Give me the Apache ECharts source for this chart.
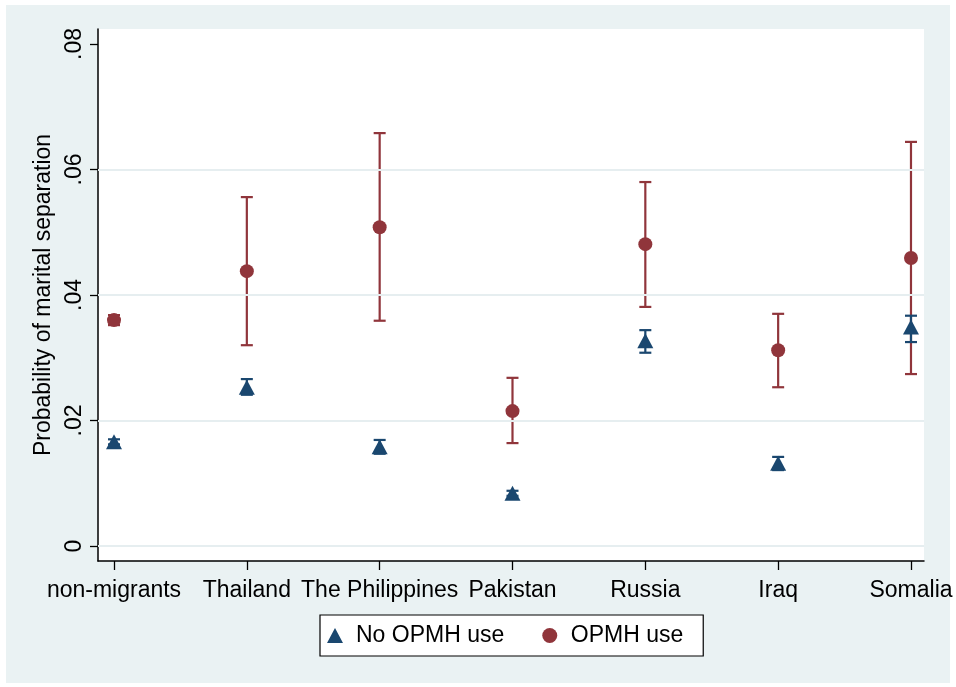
<!DOCTYPE html>
<html>
<head>
<meta charset="utf-8">
<script src="https://cdn.jsdelivr.net/npm/echarts@6/dist/echarts.min.js"></script>
<style>
html,body{margin:0;padding:0;background:#fff;}
#chart{width:956px;height:687px;}
</style>
</head>
<body>
<div id="chart"></div>
<script>
// ---- data ----
const categories = ['non-migrants', 'Thailand', 'The Philippines', 'Pakistan', 'Russia', 'Iraq', 'Somalia'];
const noOpmh     = [0.0166, 0.0253, 0.0158, 0.0084, 0.0327, 0.0132, 0.0349];
const noOpmhLow  = [0.0162, 0.0241, 0.0147, 0.0080, 0.0308, 0.0121, 0.0325];
const noOpmhHigh = [0.0170, 0.0266, 0.0169, 0.0088, 0.0344, 0.0142, 0.0367];
const opmh       = [0.0360, 0.0438, 0.0508, 0.0215, 0.0481, 0.0312, 0.0459];
const opmhLow    = [0.0352, 0.0320, 0.0359, 0.0164, 0.0381, 0.0253, 0.0274];
const opmhHigh   = [0.0368, 0.0556, 0.0658, 0.0268, 0.0580, 0.0370, 0.0644];
const yTicks      = [0, 0.02, 0.04, 0.06, 0.08];
const yTickLabels = ['0', '.02', '.04', '.06', '.08'];
const gridLineValues = [0, 0.02, 0.04, 0.06];
const seriesNames = ['No OPMH use', 'OPMH use'];

// ---- build ----
const NAVY = '#1A476F', MAROON = '#90353B';
const FONT = "'Liberation Sans', Arial, Helvetica, sans-serif";
const xPos = categories.map((c, i) => i + 1);
const pts = (vals) => vals.map((v, i) => [xPos[i], v]);
const ci = (lo, hi) => lo.map((v, i) => [xPos[i], v, hi[i]]);

function ciRender(color) {
  return function (params, api) {
    const x = api.value(0), lo = api.value(1), hi = api.value(2);
    const a = api.coord([x, lo]), b = api.coord([x, hi]);
    const w = 6;
    const style = { stroke: color, lineWidth: 2.2, fill: null };
    return {
      type: 'group',
      children: [
        { type: 'line', shape: { x1: a[0], y1: a[1], x2: b[0], y2: b[1] }, style: style },
        { type: 'line', shape: { x1: a[0] - w, y1: a[1], x2: a[0] + w, y2: a[1] }, style: style },
        { type: 'line', shape: { x1: b[0] - w, y1: b[1], x2: b[0] + w, y2: b[1] }, style: style }
      ]
    };
  };
}

const chart = echarts.init(document.getElementById('chart'), null, { renderer: 'canvas' });
chart.setOption({
  animation: false,
  backgroundColor: '#ffffff',
  textStyle: { fontFamily: FONT },
  graphic: [{
    type: 'rect', z: -10, silent: true,
    shape: { x: 6, y: 5, width: 944, height: 678 },
    style: { fill: '#EAF2F3' }
  }],
  grid: {
    left: 98, top: 29, right: 32, bottom: 126,
    show: true, backgroundColor: '#ffffff', borderWidth: 0
  },
  xAxis: {
    type: 'value', min: 0.8795, max: 7.098,
    axisLine: { show: true, onZero: false, lineStyle: { color: '#000', width: 1.5 } },
    axisTick: { show: true, length: 9, customValues: xPos, lineStyle: { color: '#000', width: 1.3 } },
    axisLabel: {
      customValues: xPos, margin: 18, color: '#000', fontSize: 23, fontFamily: FONT,
      formatter: (v) => categories[Math.round(v) - 1] || ''
    },
    splitLine: { show: false }
  },
  yAxis: {
    type: 'value', min: -0.00239, max: 0.08239,
    name: 'Probability of marital separation',
    nameLocation: 'middle', nameRotate: 90, nameGap: 37,
    nameTextStyle: { color: '#000', fontSize: 23, fontFamily: FONT },
    axisLine: { show: true, onZero: false, lineStyle: { color: '#000', width: 1.5 } },
    axisTick: { show: true, length: 8, customValues: yTicks, lineStyle: { color: '#000', width: 1.3 } },
    axisLabel: {
      customValues: yTicks, rotate: 90, margin: 12, color: '#000', fontSize: 23, fontFamily: FONT,
      formatter: (v) => { const i = yTicks.findIndex(t => Math.abs(t - v) < 1e-9); return i >= 0 ? yTickLabels[i] : ''; }
    },
    splitLine: { show: false }
  },
  legend: {
    data: [
      { name: seriesNames[0], icon: 'triangle' },
      { name: seriesNames[1], icon: 'circle' }
    ],
    left: 320, top: 615,
    orient: 'horizontal',
    itemWidth: 16, itemHeight: 15, itemGap: 38,
    padding: [9, 20, 9, 7],
    backgroundColor: '#ffffff', borderColor: '#000', borderWidth: 1.2, borderRadius: 0,
    textStyle: { color: '#000', fontSize: 23, fontFamily: FONT, padding: [0, 0, 0, 8] }
  },
  series: [
    {
      name: 'grid', type: 'scatter', data: [], z: 1, silent: true,
      markLine: {
        silent: true, symbol: ['none', 'none'], label: { show: false },
        lineStyle: { color: '#E6EEF0', width: 1.8, type: 'solid' },
        data: gridLineValues.map(v => ({ yAxis: v }))
      }
    },
    {
      name: 'OPMH CI', type: 'custom', z: 3, renderItem: ciRender(MAROON),
      data: ci(opmhLow, opmhHigh), encode: { x: 0, y: [1, 2] }
    },
    {
      name: seriesNames[1], type: 'scatter', z: 4, symbol: 'circle', symbolSize: 14,
      itemStyle: { color: MAROON, opacity: 1 }, data: pts(opmh)
    },
    {
      name: 'No OPMH CI', type: 'custom', z: 5, renderItem: ciRender(NAVY),
      data: ci(noOpmhLow, noOpmhHigh), encode: { x: 0, y: [1, 2] }
    },
    {
      name: seriesNames[0], type: 'scatter', z: 6, symbol: 'triangle', symbolSize: [16, 15],
      itemStyle: { color: NAVY, opacity: 1 }, data: pts(noOpmh)
    }
  ]
});
</script>
</body>
</html>
